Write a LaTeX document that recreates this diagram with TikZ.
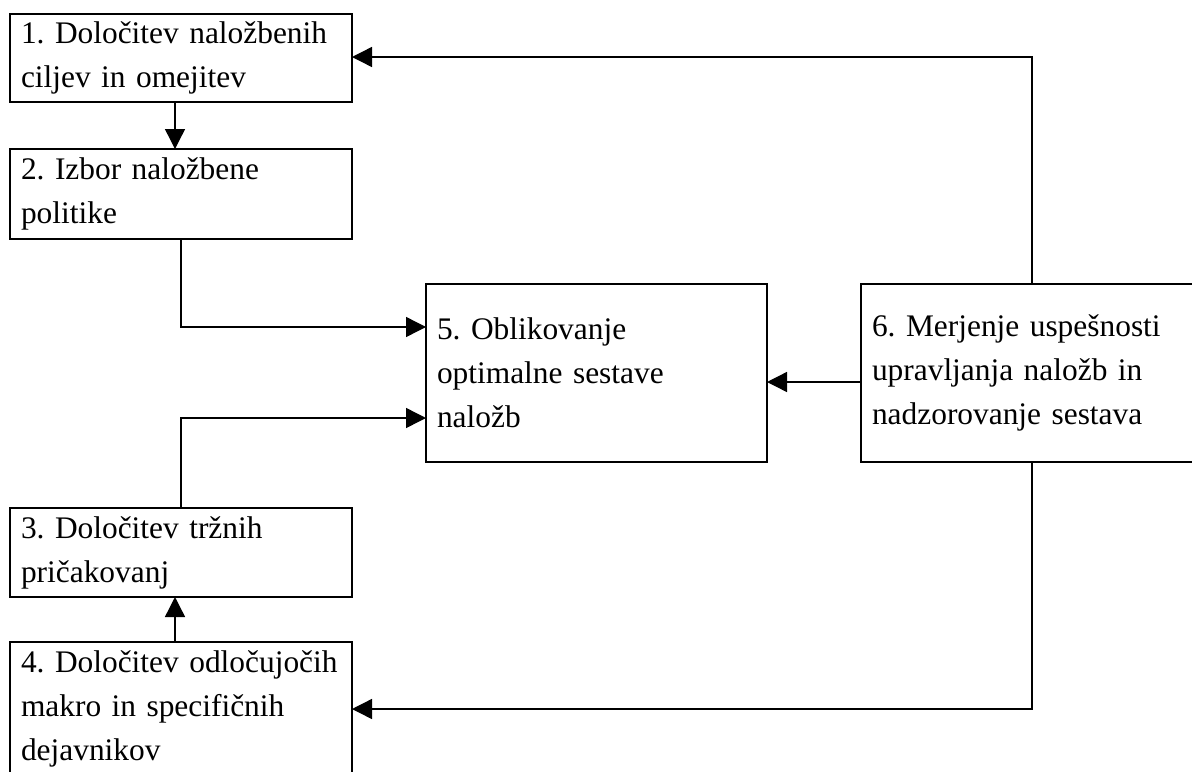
\documentclass[tikz,border=0pt]{standalone}
\usepackage{fontspec}
\setmainfont{Liberation Serif}
\usetikzlibrary{arrows.meta}
\frenchspacing
\hyphenpenalty=10000
\exhyphenpenalty=10000
\begin{document}
\begin{tikzpicture}[x=0.5pt,y=-0.5pt,
  box/.style={draw, line width=1pt, anchor=north west, outer sep=0pt,
    inner xsep=5.5pt, inner ysep=0pt, align=left,
    font=\fontsize{15.7}{22}\selectfont},
  conn/.style={line width=0.7pt},
  arr/.style={conn, -{Triangle[length=10pt,width=10pt]}}]
\useasboundingbox (0,0) rectangle (1192,771);
\node[box, minimum width=171pt, minimum height=44pt, text width=160pt] (b1) at (10,14)
  {\mbox{1. Določitev naložbenih}\\ciljev in omejitev};
\node[box, minimum width=171pt, minimum height=45pt, text width=160pt] (b2) at (10,149)
  {2. Izbor naložbene\\politike};
\node[box, minimum width=171pt, minimum height=44.5pt, text width=160pt] (b3) at (10,508)
  {3. Določitev tržnih\\pričakovanj};
\node[box, minimum width=171pt, minimum height=67pt, text width=160pt] (b4) at (10,642)
  {\mbox{4. Določitev odločujočih}\\\mbox{makro in specifičnih}\\\mbox{dejavnikov}};
\node[box, minimum width=170.5pt, minimum height=89pt, text width=159.5pt] (b5) at (426,284)
  {5. Oblikovanje\\optimalne sestave\\naložb};
\node[box, minimum width=180pt, minimum height=89pt, text width=169pt] (b6) at (861,284)
  {6. Merjenje uspešnosti\\upravljanja naložb in\\nadzorovanje sestava};
\coordinate (a1) at (175,0);
\coordinate (k1) at (181,327);
\coordinate (k2) at (181,418);
\coordinate (k3) at (0,382);
\coordinate (k4) at (1032,57);
\coordinate (k5) at (1032,709);
\draw[arr] (b1.south -| a1) -- (b2.north -| a1);
\draw[arr] (b4.north -| a1) -- (b3.south -| a1);
\draw[arr] (b2.south -| k1) -- (k1) -- (b5.west |- k1);
\draw[arr] (b3.north -| k2) -- (k2) -- (b5.west |- k2);
\draw[arr] (b6.west |- k3) -- (b5.east |- k3);
\draw[arr] (b6.north -| k4) -- (k4) -- (b1.east |- k4);
\draw[arr] (b6.south -| k5) -- (k5) -- (b4.east |- k5);
\end{tikzpicture}
\end{document}
